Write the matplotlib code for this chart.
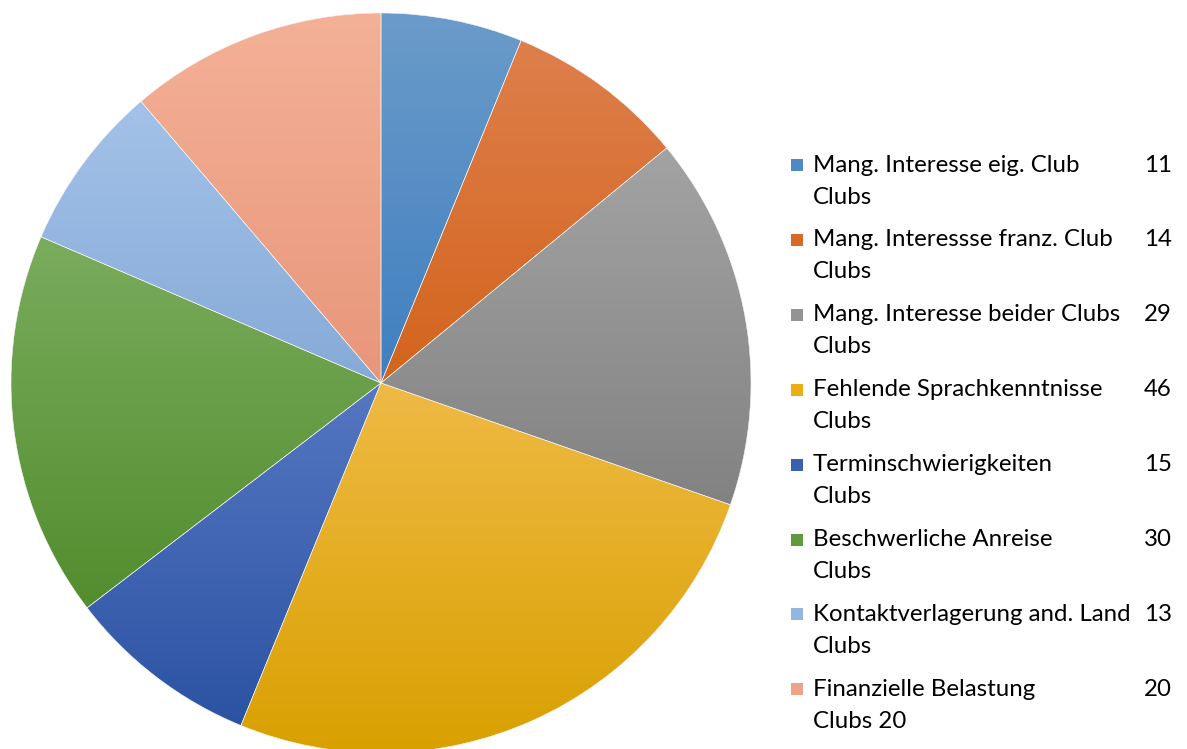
import numpy as np
import matplotlib
matplotlib.use("Agg")
import matplotlib.pyplot as plt
from matplotlib.colors import LinearSegmentedColormap
from matplotlib.patches import Rectangle

labels = ["Mang. Interesse eig. Club", "Mang. Interessse franz. Club",
          "Mang. Interesse beider Clubs", "Fehlende Sprachkenntnisse",
          "Terminschwierigkeiten", "Beschwerliche Anreise",
          "Kontaktverlagerung and. Land", "Finanzielle Belastung"]
second_line = ["Clubs", "Clubs", "Clubs", "Clubs", "Clubs", "Clubs", "Clubs", "Clubs 20"]
values = [11, 14, 29, 46, 15, 30, 13, 20]

# gradient colours per slice (top, bottom)
top_cols = ["#6B9BCA", "#DE7F4C", "#A3A3A3", "#EFBA45", "#5677C2", "#7AAC5C", "#A3C2E9", "#F4B197"]
bot_cols = ["#3F7FBF", "#D3641C", "#828282", "#D9A000", "#2B53A2", "#528D2E", "#86AAD7", "#E8967A"]
leg_cols = ["#4F89C4", "#D86A29", "#939393", "#EBAE16", "#3A60B0", "#5F9A3D", "#93B5E0", "#EFA386"]

W, H = 1187, 749
fig = plt.figure(figsize=(W / 100, H / 100), dpi=100)

cx, cy, r = 381, 383, 370
ax = fig.add_axes([(cx - r) / W, (H - cy - r) / H, 2 * r / W, 2 * r / H])
ax.set_xlim(-1, 1)
ax.set_ylim(-1, 1)
ax.axis("off")

wedges, _ = ax.pie(values, startangle=90, counterclock=False, radius=1,
                   wedgeprops=dict(facecolor="none", edgecolor="#f4f4f4", linewidth=0.4))

grad = np.linspace(0, 1, 256).reshape(-1, 1)
for w, c1, c2 in zip(wedges, top_cols, bot_cols):
    bb = w.get_path().get_extents()
    cmap = LinearSegmentedColormap.from_list("g", [c1, c2])
    im = ax.imshow(grad, cmap=cmap, aspect="auto", origin="upper",
                   extent=[bb.x0, bb.x1, bb.y0, bb.y1], zorder=0.5)
    im.set_clip_path(w)
ax.set_xlim(-1, 1)
ax.set_ylim(-1, 1)

# legend
font = "Lato"
fs = 17.3
row0, step, gap = 165, 74.9, 32
for i, (lab, lab2, v, col) in enumerate(zip(labels, second_line, values, leg_cols)):
    y = row0 + i * step
    fig.patches.append(Rectangle((791 / W, (H - y - 6) / H), 12 / W, 12 / H,
                                 transform=fig.transFigure, facecolor=col,
                                 edgecolor="none"))
    fig.text(813 / W, (H - y) / H, lab, fontsize=fs, family=font, va="center", ha="left")
    fig.text(1172 / W, (H - y) / H, str(v), fontsize=fs, family=font, va="center", ha="right")
    fig.text(813 / W, (H - y - gap) / H, lab2, fontsize=fs, family=font, va="center", ha="left")

fig.savefig("out.png", dpi=100)
